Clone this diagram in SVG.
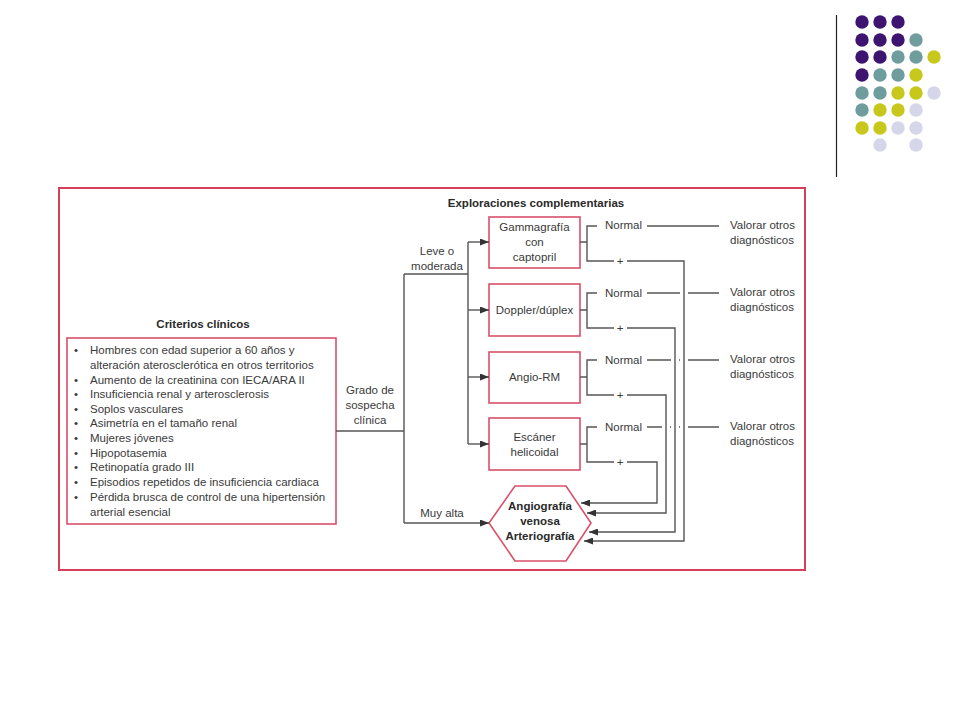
<svg xmlns="http://www.w3.org/2000/svg" width="960" height="720" viewBox="0 0 960 720">
<style>
text{font-family:"Liberation Sans",Arial,sans-serif;fill:#3a3a3a;font-size:11.5px}
.c{text-anchor:middle}
.b{font-weight:bold;fill:#2a2a2a}
.box{fill:#fff;stroke:#d9506a;stroke-width:1.6}
.ln{fill:none;stroke:#555;stroke-width:1.4}
.arr{fill:none;stroke:#555;stroke-width:1.4;marker-end:url(#ah)}
.pu{fill:#3d1570}.te{fill:#6f9d9d}.ye{fill:#c8c81c}.la{fill:#d6d6ea}
</style>
<defs>
<marker id="ah" markerUnits="userSpaceOnUse" markerWidth="9" markerHeight="7" refX="9" refY="3.5" orient="auto">
<path d="M0,0 L9,3.5 L0,7 z" fill="#333"/>
</marker>
</defs>
<rect width="960" height="720" fill="#fff"/>
<g id="decor">
<line x1="836.5" y1="15" x2="836.5" y2="177" stroke="#222" stroke-width="1.2"/>
<g>
<circle class="pu" cx="862" cy="22" r="6.7"/><circle class="pu" cx="880" cy="22" r="6.7"/><circle class="pu" cx="898" cy="22" r="6.7"/>
<circle class="pu" cx="862" cy="40" r="6.7"/><circle class="pu" cx="880" cy="40" r="6.7"/><circle class="pu" cx="898" cy="40" r="6.7"/><circle class="te" cx="916" cy="40" r="6.7"/>
<circle class="pu" cx="862" cy="57" r="6.7"/><circle class="pu" cx="880" cy="57" r="6.7"/><circle class="te" cx="898" cy="57" r="6.7"/><circle class="te" cx="916" cy="57" r="6.7"/><circle class="ye" cx="934" cy="57" r="6.7"/>
<circle class="pu" cx="862" cy="75" r="6.7"/><circle class="te" cx="880" cy="75" r="6.7"/><circle class="te" cx="898" cy="75" r="6.7"/><circle class="ye" cx="916" cy="75" r="6.7"/>
<circle class="te" cx="862" cy="93" r="6.7"/><circle class="te" cx="880" cy="93" r="6.7"/><circle class="ye" cx="898" cy="93" r="6.7"/><circle class="ye" cx="916" cy="93" r="6.7"/><circle class="la" cx="934" cy="93" r="6.7"/>
<circle class="te" cx="862" cy="110" r="6.7"/><circle class="ye" cx="880" cy="110" r="6.7"/><circle class="ye" cx="898" cy="110" r="6.7"/><circle class="la" cx="916" cy="110" r="6.7"/>
<circle class="ye" cx="862" cy="128" r="6.7"/><circle class="ye" cx="880" cy="128" r="6.7"/><circle class="la" cx="898" cy="128" r="6.7"/><circle class="la" cx="916" cy="128" r="6.7"/>
<circle class="la" cx="880" cy="145" r="6.7"/><circle class="la" cx="916" cy="145" r="6.7"/>
</g>
</g>
<rect id="frame" x="59" y="188" width="746" height="382" fill="none" stroke="#d4405a" stroke-width="2"/>
<g id="criterios">
<text class="c b" x="203" y="328">Criterios clínicos</text>
<rect class="box" x="67" y="338" width="269" height="186"/>
<g>
<text x="74" y="354">•</text><text x="90" y="354">Hombres con edad superior a 60 años y</text>
<text x="90" y="369">alteración aterosclerótica en otros territorios</text>
<text x="74" y="384">•</text><text x="90" y="384">Aumento de la creatinina con IECA/ARA II</text>
<text x="74" y="398">•</text><text x="90" y="398">Insuficiencia renal y arterosclerosis</text>
<text x="74" y="413">•</text><text x="90" y="413">Soplos vasculares</text>
<text x="74" y="427">•</text><text x="90" y="427">Asimetría en el tamaño renal</text>
<text x="74" y="442">•</text><text x="90" y="442">Mujeres jóvenes</text>
<text x="74" y="457">•</text><text x="90" y="457">Hipopotasemia</text>
<text x="74" y="471">•</text><text x="90" y="471">Retinopatía grado III</text>
<text x="74" y="486">•</text><text x="90" y="486">Episodios repetidos de insuficiencia cardiaca</text>
<text x="74" y="501">•</text><text x="90" y="501">Pérdida brusca de control de una hipertensión</text>
<text x="90" y="516">arterial esencial</text>
</g>
</g>
<g id="labels">
<text class="c" x="370" y="394">Grado de</text>
<text class="c" x="370" y="409">sospecha</text>
<text class="c" x="370" y="424">clínica</text>
<text class="c" x="437" y="255">Leve o</text>
<text class="c" x="437" y="270">moderada</text>
<text class="c" x="442" y="517">Muy alta</text>
<text class="c b" x="536" y="207">Exploraciones complementarias</text>
</g>
<g id="gammagrafia">
<rect class="box" x="489" y="217" width="91" height="51"/>
<text class="c" x="534.5" y="231">Gammagrafía</text>
<text class="c" x="534.5" y="246">con</text>
<text class="c" x="534.5" y="261">captopril</text>
</g>
<g id="doppler">
<rect class="box" x="489" y="284" width="91" height="52"/>
<text class="c" x="534.5" y="314">Doppler/dúplex</text>
</g>
<g id="angiorm">
<rect class="box" x="489" y="352" width="91" height="51"/>
<text class="c" x="534.5" y="381">Angio-RM</text>
</g>
<g id="escaner">
<rect class="box" x="489" y="418" width="91" height="52"/>
<text class="c" x="534.5" y="441">Escáner</text>
<text class="c" x="534.5" y="456">helicoidal</text>
</g>
<g id="angiografia">
<polygon class="box" points="489,523 515,486 566,486 591,523 566,561 515,561"/>
<text class="c b" x="540" y="510">Angiografía</text>
<text class="c b" x="540" y="525">venosa</text>
<text class="c b" x="540" y="540">Arteriografía</text>
</g>
<g id="results">
<text x="605" y="229">Normal</text><text class="c" x="620" y="265">+</text>
<text x="605" y="297">Normal</text><text class="c" x="620" y="332">+</text>
<text x="605" y="364">Normal</text><text class="c" x="620" y="399">+</text>
<text x="605" y="431">Normal</text><text class="c" x="620" y="466">+</text>
<text x="730" y="229">Valorar otros</text><text x="730" y="244">diagnósticos</text>
<text x="730" y="296">Valorar otros</text><text x="730" y="311">diagnósticos</text>
<text x="730" y="363">Valorar otros</text><text x="730" y="378">diagnósticos</text>
<text x="730" y="430">Valorar otros</text><text x="730" y="445">diagnósticos</text>
</g>
<g id="connectors">
<path class="ln" d="M336,431 H404 M404,274 V523 M404,274 H468 M468,242 V444"/>
<path class="arr" d="M468,242 H489"/>
<path class="arr" d="M468,310 H489"/>
<path class="arr" d="M468,377 H489"/>
<path class="arr" d="M468,444 H489"/>
<path class="arr" d="M404,523 H489"/>
<path class="ln" d="M580,242 H587 M597,226 H587 V261 H614"/>
<path class="ln" d="M580,310 H587 M597,293 H587 V328 H614"/>
<path class="ln" d="M580,377 H587 M597,360 H587 V395 H614"/>
<path class="ln" d="M580,444 H587 M597,427 H587 V462 H614"/>
<path class="ln" d="M647,226 H719"/>
<path class="ln" d="M647,293 H680 M688,293 H719"/>
<path class="ln" d="M647,360 H671 M679,360 H680 M688,360 H719"/>
<path class="ln" d="M647,427 H662 M670,427 H671 M679,427 H680 M688,427 H719"/>
<path class="arr" d="M627,261 H684 V541 H584"/>
<path class="arr" d="M627,328 H675 V532 H589"/>
<path class="arr" d="M627,395 H666 V513 H587"/>
<path class="arr" d="M627,462 H657 V503 H581"/>
</g>
</svg>
